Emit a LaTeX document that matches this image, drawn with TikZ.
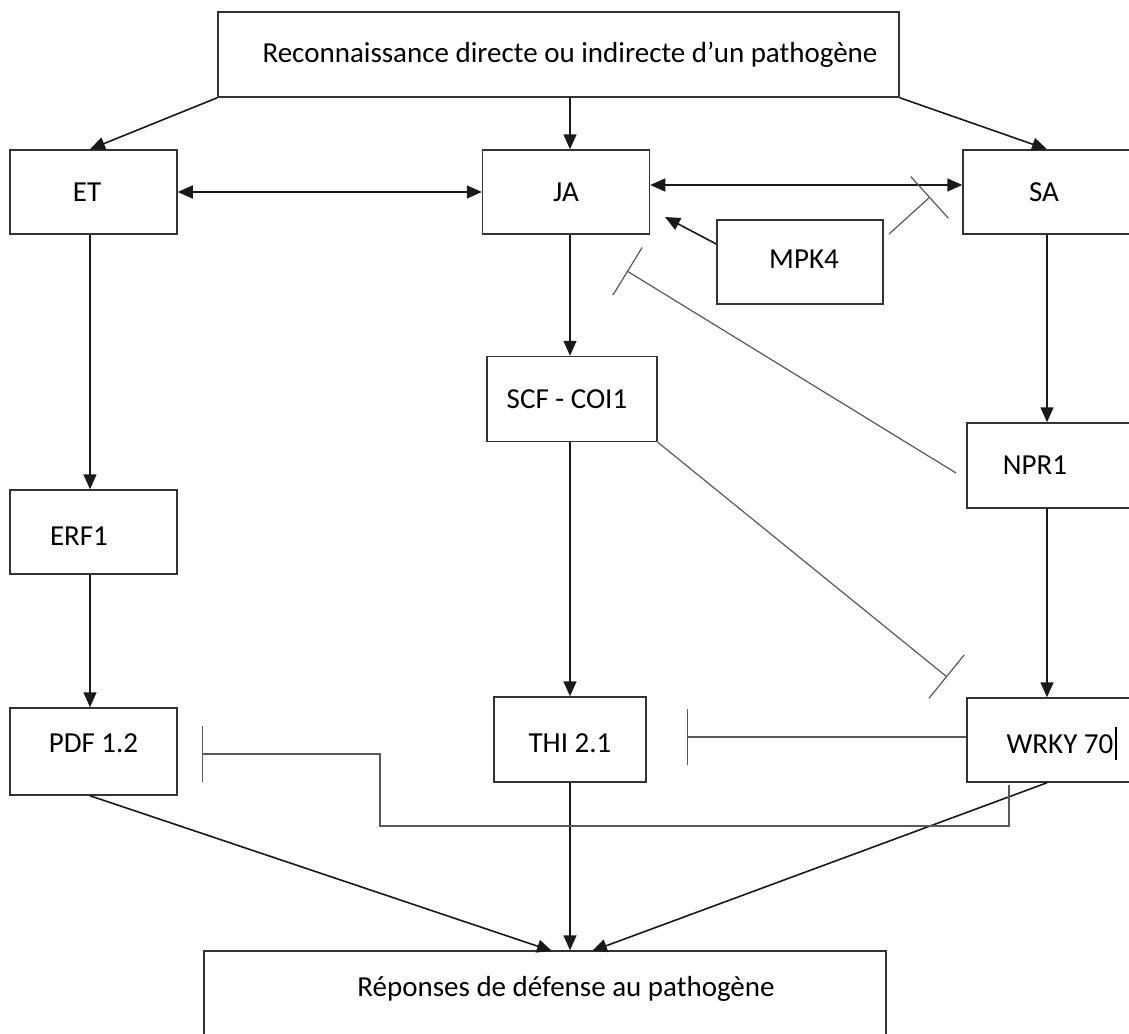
\documentclass[tikz,border=0pt]{standalone}
\usepackage{fontspec}
\setmainfont{Carlito}
\usetikzlibrary{arrows.meta}
\begin{document}
\begin{tikzpicture}[x=1pt,y=-1pt,
  box/.style={draw=black!80, line width=1.5pt, minimum width=167pt, minimum height=84pt,
    inner sep=0pt, font=\fontsize{29}{34}\selectfont},
  txt/.style={inner sep=0pt, font=\fontsize{29}{34}\selectfont},
  arr/.style={draw=black!90, line width=1.6pt, -{Triangle[length=15pt,width=13pt]}},
  darr/.style={draw=black!90, line width=1.6pt, {Triangle[length=15pt,width=13pt]}-{Triangle[length=15pt,width=13pt]}},
  inh/.style={draw=black!65, line width=1.2pt, -{Bar[width=56pt,line width=1.2pt]}}]
\useasboundingbox (0,0) rectangle (1129,1033);
\clip (0,0) rectangle (1129,1033);
\fill[white] (0,0) rectangle (1129,1033);

% boxes
\node[box, minimum width=681pt, minimum height=85pt] (top) at (558.5,54.5) {\hspace*{23pt}Reconnaissance directe ou indirecte d’un pathogène};
\node[box] (et) at (93.5,192) {ET\hspace*{13pt}};
\node[box] (ja) at (566,192) {JA};
\node[box, minimum width=168pt] (sa) at (1047,192) {SA\hspace*{6pt}};
\node[box, minimum width=166pt] (mpk4) at (800,262) {\hspace*{8pt}\raisebox{3pt}[\height][\depth]{MPK4}};
\node[box, minimum width=170pt, minimum height=85pt] (scf) at (572,399) {SCF - COI1\hspace*{10pt}};
\node[box, minimum width=164pt, minimum height=85pt] (npr1) at (1049,465.5) {NPR1\hspace*{28pt}};
\node[box] (erf1) at (93.5,532) {\raisebox{-4pt}[\height][\depth]{ERF1}\hspace*{29pt}};
\node[box, minimum height=87pt] (pdf) at (93.5,751.5) {\raisebox{8.5pt}[\height][\depth]{PDF 1.2}};
\node[box, minimum width=152pt, minimum height=85pt] (thi) at (570,739.5) {\raisebox{-3.5pt}[\height][\depth]{THI 2.1}};
\node[box, minimum width=164pt] (wrky) at (1049,740) {\hspace*{26pt}\raisebox{-3pt}[\height][\depth]{WRKY 70\hspace{1.5pt}\rule[-6pt]{2.5pt}{33pt}}};
\node[box, minimum width=682pt, minimum height=160pt] (resp) at (545,1031) {};
\node[txt] (respt) at (566,989) {Réponses de défense au pathogène};

% free ends
\coordinate (mpkja) at (665,217);
\coordinate (mpksa0) at (889,234);
\coordinate (mpksa1) at (930,197);
\coordinate (npr1s) at (956,473);
\coordinate (jabar) at (627,271);
\coordinate (scfbar) at (947,677);
\coordinate (thibar) at (687,737);
\coordinate (wkp) at (1009,785);
\coordinate (c1) at (380,826);
\coordinate (pdfbar) at (202,754);
\coordinate (respL) at (552,951);
\coordinate (respR) at (592,951);

% activation arrows
\draw[arr] (top.south west) -- ([xshift=-3.5pt]et.north);
\draw[arr] (top.south -| thi.north) -- (ja.north -| thi.north);
\draw[arr] (top.south east) -- (sa.north);
\draw[darr] (et.east) -- (ja.west);
\draw[darr] ([yshift=7pt]ja.east) -- ([yshift=7pt]sa.west);
\draw[arr] ([yshift=18pt]mpk4.west) -- (mpkja);
\draw[arr] ([xshift=-3.5pt]et.south) -- ([xshift=-3.5pt]erf1.north);
\draw[arr] ([xshift=-3.5pt]erf1.south) -- ([xshift=-3.5pt]pdf.north);
\draw[arr] (ja.south -| thi.north) -- (scf.north -| thi.north);
\draw[arr] (scf.south -| thi.north) -- (thi.north);
\draw[arr] (sa.south) -- (sa.south |- npr1.north);
\draw[arr] ([xshift=-2pt]npr1.south) -- ([xshift=-2pt]wrky.north);
\draw[arr] ([xshift=-3.5pt]pdf.south) -- (respL);
\draw[arr] (thi.south) -- (thi.south |- resp.north);
\draw[arr] ([xshift=-2pt]wrky.south) -- (respR);

% inhibitions
\draw[inh] (mpksa0) -- (mpksa1);
\draw[inh] (npr1s) -- (jabar);
\draw[inh] (scf.south east) -- (scfbar);
\draw[inh] ([yshift=3pt]wrky.west) -- (thibar);
\draw[inh] (wkp) |- (c1) |- (pdfbar);
\end{tikzpicture}
\end{document}
